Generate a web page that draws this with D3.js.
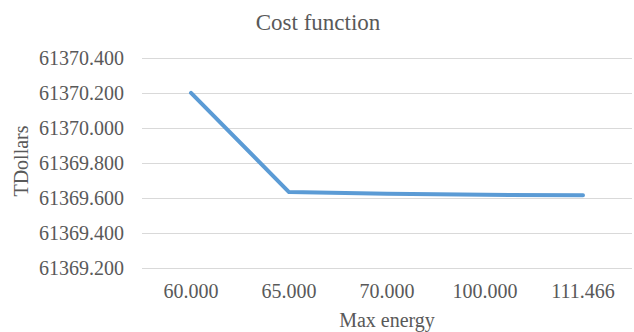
<!DOCTYPE html>
<html>
<head>
<meta charset="utf-8">
<script src="https://cdn.jsdelivr.net/npm/d3@7"></script>
<style>
  body { margin: 0; background: #fff; }
  text { font-family: "Liberation Serif", "Times New Roman", serif; fill: #595959; }
</style>
</head>
<body>
<div id="chart"></div>
<script>
// chart data
var categories = ["60.000", "65.000", "70.000", "100.000", "111.466"];
var costValues = [61370.200, 61369.632, 61369.622, 61369.616, 61369.614];
var yTicks = [61369.2, 61369.4, 61369.6, 61369.8, 61370.0, 61370.2, 61370.4];

var width = 634, height = 332;
var margin = {top: 58, right: 2, bottom: 64, left: 142};

var svg = d3.select("#chart").append("svg")
    .attr("width", width)
    .attr("height", height);

var x = d3.scaleBand()
    .domain(categories)
    .range([margin.left, width - margin.right]);

var y = d3.scaleLinear()
    .domain([61369.2, 61370.4])
    .range([height - margin.bottom - 0.5, margin.top]);

// gridlines
svg.append("g")
  .selectAll("line")
  .data(yTicks)
  .join("line")
    .attr("x1", margin.left)
    .attr("x2", width - margin.right)
    .attr("y1", function(d) { return Math.round(y(d)) + 0.5; })
    .attr("y2", function(d) { return Math.round(y(d)) + 0.5; })
    .attr("stroke", "#d9d9d9")
    .attr("stroke-width", 1);

// y tick labels
svg.append("g")
  .selectAll("text")
  .data(yTicks)
  .join("text")
    .attr("x", 124)
    .attr("y", function(d) { return y(d); })
    .attr("dy", "0.35em")
    .attr("text-anchor", "end")
    .style("font-size", "20px")
    .text(function(d) { return d3.format(".3f")(d); });

// x tick labels
svg.append("g")
  .selectAll("text")
  .data(categories)
  .join("text")
    .attr("x", function(d) { return x(d) + x.bandwidth() / 2; })
    .attr("y", 298)
    .attr("text-anchor", "middle")
    .style("font-size", "20px")
    .text(function(d) { return d; });

// the line
var line = d3.line()
    .x(function(d, i) { return x(categories[i]) + x.bandwidth() / 2; })
    .y(function(d) { return y(d); });

svg.append("path")
    .datum(costValues)
    .attr("fill", "none")
    .attr("stroke", "#5b9bd5")
    .attr("stroke-width", 4)
    .attr("stroke-linejoin", "round")
    .attr("stroke-linecap", "round")
    .attr("d", line);

// title and axis labels
svg.append("text")
    .attr("x", 318)
    .attr("y", 30)
    .attr("text-anchor", "middle")
    .style("font-size", "23px")
    .text("Cost function");

svg.append("text")
    .attr("x", (margin.left + width - margin.right) / 2)
    .attr("y", 327)
    .attr("text-anchor", "middle")
    .style("font-size", "20px")
    .text("Max energy");

svg.append("text")
    .attr("transform", "translate(28,161) rotate(-90)")
    .attr("text-anchor", "middle")
    .style("font-size", "20px")
    .text("TDollars");
</script>
</body>
</html>
